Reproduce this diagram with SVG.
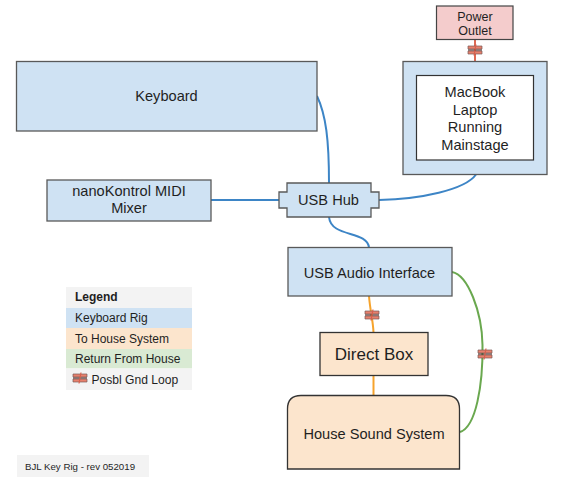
<svg xmlns="http://www.w3.org/2000/svg" width="565" height="480" viewBox="0 0 565 480">
<style>
text{font-family:"Liberation Sans",Arial,sans-serif;fill:#1f1f1f;text-anchor:middle}
.b{fill:#cfe2f3;stroke:#595959;stroke-width:1.3}
.o{fill:#fce5cd;stroke:#333;stroke-width:1.3}
.w{fill:none;stroke-width:2}
.blue{stroke:#3d85c6}.org{stroke:#f6a32c}.grn{stroke:#6aa84f}.red{stroke:#dd6a55}
.t14{font-size:14.6px}
.t12{font-size:12.500px}
.lg{font-size:12px;text-anchor:start}
</style>
<defs>
<g id="loop">
<path d="M-7-4H7V-1H-7ZM-7 1H7V4H-7Z" fill="#e8806c" stroke="#7a5a56" stroke-width=".7"/>
<path d="M-7 0H7" stroke="#4a2a26" stroke-width="1" fill="none"/>
<path d="M1-5.500L-1 5.500" stroke="#d8604c" stroke-width="1.200" fill="none"/>
</g>
</defs>
<g id="connectors">
<path class="w blue" d="M317 96C326 115 329 140 329 183"/>
<path class="w blue" d="M211 200H279"/>
<path class="w blue" d="M379 200C420 199 465 190 476 174.500"/>
<path class="w blue" d="M329 217C331 238 367 230 369 247.500"/>
<path class="w red" d="M475 39.500V61.500"/>
<path class="w org" d="M369 296C370 310 373 320 373.500 332.500"/>
<path class="w org" d="M373.500 375.500V395"/>
<path class="w grn" d="M452 272C468 275 482 312 482.500 345C483 385 476 427 460 432"/>
</g>
<g id="power-outlet"><rect x="436.500" y="6" width="76.500" height="33.500" fill="#f4cccc" stroke="#444" stroke-width="1.200"/><text class="t12" x="475" y="21">Power</text><text class="t12" x="475" y="35">Outlet</text></g>
<g id="macbook"><rect class="b" x="403" y="61.500" width="144" height="113"/><rect x="416.500" y="75.500" width="117" height="84.500" fill="#fff" stroke="#333" stroke-width="1.200"/><text class="t14" x="475" y="97">MacBook</text><text class="t14" x="475" y="114.500">Laptop</text><text class="t14" x="475" y="132">Running</text><text class="t14" x="475" y="149.500">Mainstage</text></g>
<g id="keyboard"><rect class="b" x="16.500" y="61.500" width="300.500" height="69.500"/><text class="t14" x="166.500" y="101">Keyboard</text></g>
<g id="nanokontrol"><rect class="b" x="47" y="180" width="164" height="41"/><text class="t14" x="129" y="196">nanoKontrol MIDI</text><text class="t14" x="129" y="213">Mixer</text></g>
<g id="usb-hub"><path class="b" d="M287 183H371V192H379V208H371V217H287V208H279V192H287Z"/><text class="t14" x="328.500" y="205">USB Hub</text></g>
<g id="usb-audio"><rect class="b" x="288" y="247.500" width="164" height="48.500"/><text class="t14" x="369.500" y="277.500">USB Audio Interface</text></g>
<g id="direct-box"><rect class="o" x="320" y="332.500" width="108" height="43"/><text x="374" y="359.500" style="font-size:17px">Direct Box</text></g>
<g id="house-sound"><path class="o" d="M287.500 469V409Q287.500 395.500 301 395.500H446Q459.500 395.500 459.500 409V469Z"/><text class="t14" x="374" y="439">House Sound System</text></g>
<g id="gnd-loops"><use href="#loop" x="475" y="50"/><use href="#loop" x="372" y="315"/><use href="#loop" x="485" y="354"/></g>
<g id="legend">
<rect x="66" y="287" width="126" height="21" fill="#f3f3f3"/>
<rect x="66" y="308" width="126" height="20" fill="#cfe2f3"/>
<rect x="66" y="328" width="126" height="21" fill="#fce5cd"/>
<rect x="66" y="349" width="126" height="19.500" fill="#d9ead3"/>
<rect x="66" y="368.500" width="126" height="21.500" fill="#f3f3f3"/>
<text class="lg" x="75" y="301" font-weight="bold">Legend</text>
<text class="lg" x="75" y="322">Keyboard Rig</text>
<text class="lg" x="75" y="342.500">To House System</text>
<text class="lg" x="75" y="363">Return From House</text>
<use href="#loop" x="80" y="378"/>
<text class="lg" x="91.500" y="383.500" style="font-size:12.100px">Posbl Gnd Loop</text>
</g>
<g id="credit"><rect x="17" y="455" width="132" height="22" fill="#f3f3f3"/><text x="25" y="470" style="font-size:9.700px;text-anchor:start">BJL Key Rig - rev 052019</text></g>
</svg>
